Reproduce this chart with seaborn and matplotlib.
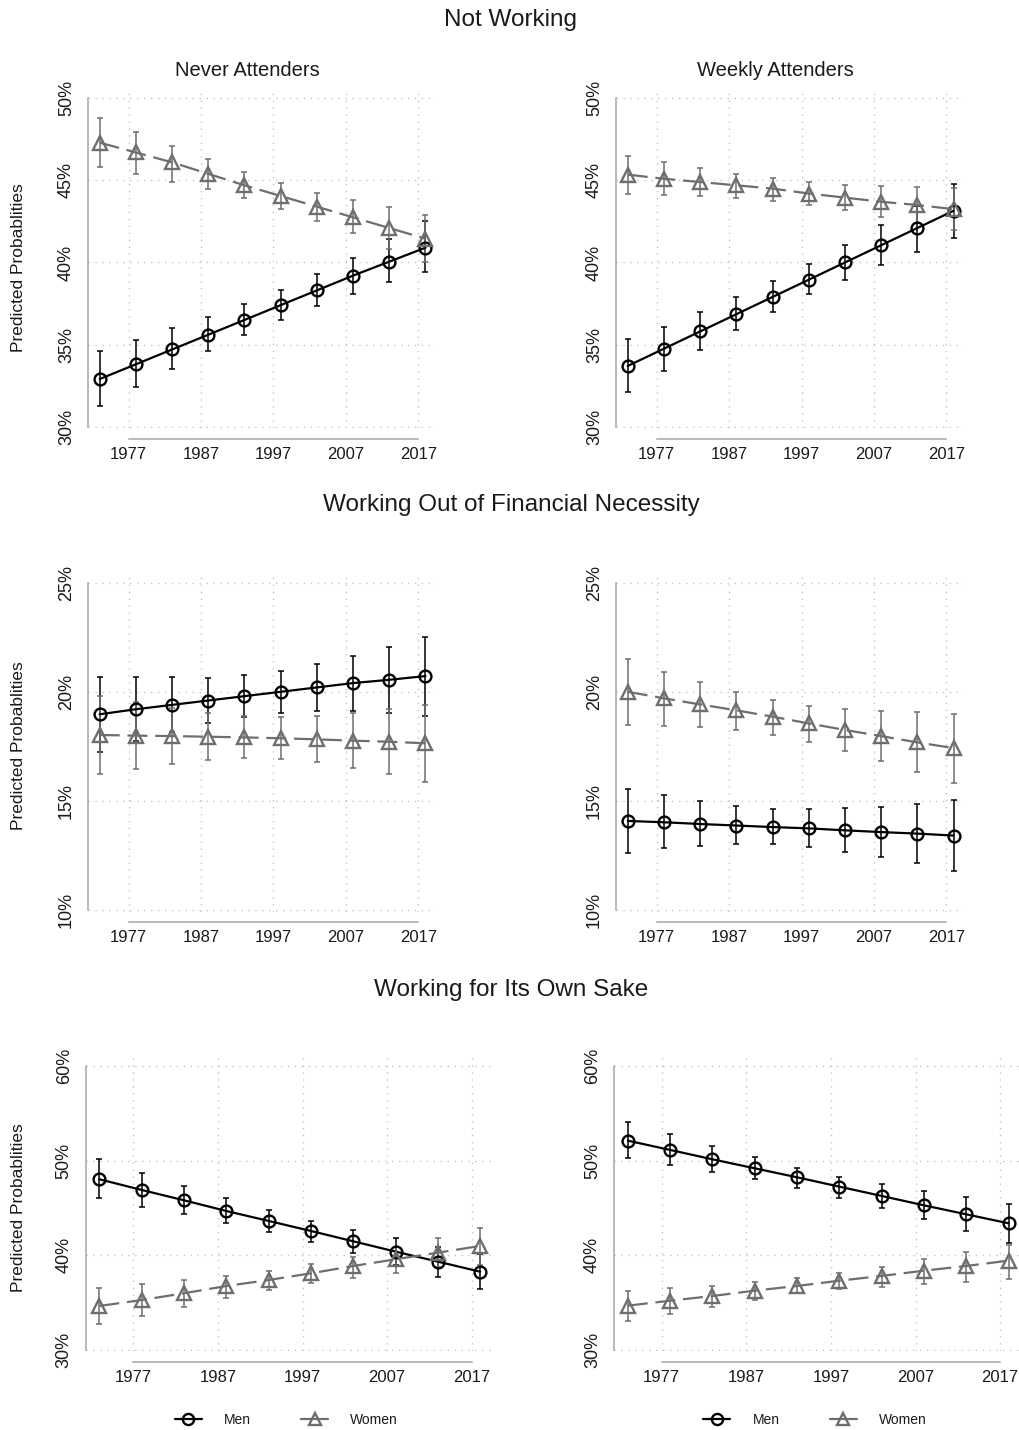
import matplotlib
matplotlib.use("Agg")
import matplotlib.pyplot as plt
import numpy as np
import pandas as pd
import seaborn as sns
from matplotlib.lines import Line2D

sns.set_theme(style="white")
plt.rcParams["font.family"] = ["Liberation Sans", "DejaVu Sans"]

# ---------------------------------------------------------------- data
years = [1973, 1978, 1983, 1988, 1993, 1998, 2003, 2008, 2013, 2018]
year_ticks = [1977, 1987, 1997, 2007, 2017]

row_titles = ["Not Working", "Working Out of Financial Necessity", "Working for Its Own Sake"]
col_titles = ["Never Attenders", "Weekly Attenders"]
sexes = ["Men", "Women"]
y_label = "Predicted Probablities"

# Not Working -- never attenders
nw_never_men = [32.9, 33.8, 34.7, 35.6, 36.5, 37.4, 38.3, 39.2, 40.05, 40.9]
nw_never_men_lo = [31.25, 32.4, 33.5, 34.6, 35.6, 36.5, 37.35, 38.1, 38.8, 39.4]
nw_never_men_hi = [34.6, 35.3, 36.0, 36.7, 37.45, 38.3, 39.3, 40.3, 41.4, 42.5]
nw_never_women = [47.3, 46.7, 46.1, 45.4, 44.7, 44.05, 43.4, 42.75, 42.1, 41.45]
nw_never_women_lo = [45.8, 45.4, 44.9, 44.5, 43.95, 43.25, 42.55, 41.8, 40.85, 40.0]
nw_never_women_hi = [48.8, 47.95, 47.1, 46.3, 45.5, 44.85, 44.25, 43.8, 43.35, 42.9]

# Not Working -- weekly attenders
nw_weekly_men = [33.7, 34.75, 35.8, 36.85, 37.9, 38.95, 40.0, 41.05, 42.1, 43.15]
nw_weekly_men_lo = [32.1, 33.4, 34.65, 35.9, 37.0, 38.05, 38.95, 39.85, 40.65, 41.5]
nw_weekly_men_hi = [35.35, 36.1, 37.0, 37.9, 38.9, 39.9, 41.05, 42.3, 43.45, 44.8]
nw_weekly_women = [45.35, 45.1, 44.9, 44.7, 44.5, 44.2, 43.95, 43.7, 43.5, 43.25]
nw_weekly_women_lo = [44.15, 44.1, 44.05, 43.95, 43.75, 43.5, 43.2, 42.8, 42.4, 41.95]
nw_weekly_women_hi = [46.5, 46.1, 45.75, 45.4, 45.15, 44.9, 44.75, 44.65, 44.6, 44.55]

# Working Out of Financial Necessity -- never attenders
fn_never_men = [18.97, 19.2, 19.4, 19.6, 19.8, 20.0, 20.2, 20.4, 20.55, 20.72]
fn_never_men_lo = [17.25, 17.74, 18.14, 18.55, 18.84, 19.04, 19.13, 19.14, 19.04, 18.91]
fn_never_men_hi = [20.69, 20.66, 20.66, 20.65, 20.76, 20.96, 21.27, 21.66, 22.06, 22.53]
fn_never_women = [18.02, 17.99, 17.97, 17.94, 17.91, 17.87, 17.82, 17.76, 17.71, 17.64]
fn_never_women_lo = [16.22, 16.44, 16.69, 16.86, 16.95, 16.9, 16.77, 16.49, 16.23, 15.88]
fn_never_women_hi = [19.82, 19.54, 19.25, 19.02, 18.87, 18.84, 18.87, 19.03, 19.19, 19.4]

# Working Out of Financial Necessity -- weekly attenders
fn_weekly_men = [14.08, 14.02, 13.94, 13.87, 13.8, 13.74, 13.65, 13.57, 13.5, 13.41]
fn_weekly_men_lo = [12.63, 12.83, 12.95, 13.03, 13.03, 12.9, 12.67, 12.44, 12.14, 11.8]
fn_weekly_men_hi = [15.55, 15.27, 15.01, 14.77, 14.65, 14.62, 14.66, 14.74, 14.86, 15.04]
fn_weekly_women = [20.0, 19.7, 19.42, 19.15, 18.86, 18.55, 18.25, 17.97, 17.68, 17.42]
fn_weekly_women_lo = [18.48, 18.45, 18.37, 18.25, 18.02, 17.71, 17.29, 16.83, 16.34, 15.84]
fn_weekly_women_hi = [21.49, 20.92, 20.43, 19.97, 19.62, 19.37, 19.23, 19.13, 19.07, 19.0]

# Working for Its Own Sake -- never attenders
os_never_men = [48.03, 46.9, 45.81, 44.68, 43.63, 42.57, 41.48, 40.39, 39.33, 38.27]
os_never_men_lo = [46.02, 45.14, 44.37, 43.45, 42.5, 41.41, 40.28, 38.98, 37.7, 36.4]
os_never_men_hi = [50.14, 48.66, 47.32, 46.02, 44.79, 43.66, 42.68, 41.8, 40.9, 40.1]
os_never_women = [34.65, 35.28, 35.99, 36.76, 37.39, 38.1, 38.87, 39.58, 40.28, 40.99]
os_never_women_lo = [32.75, 33.63, 34.58, 35.46, 36.34, 37.04, 37.64, 38.1, 38.76, 39.0]
os_never_women_hi = [36.51, 36.94, 37.39, 37.82, 38.38, 39.05, 39.86, 40.85, 41.8, 42.85]

# Working for Its Own Sake -- weekly attenders
os_weekly_men = [52.11, 51.13, 50.14, 49.19, 48.24, 47.25, 46.27, 45.28, 44.33, 43.38]
os_weekly_men_lo = [50.25, 49.54, 48.77, 48.03, 47.15, 46.09, 44.96, 43.8, 42.57, 41.34]
os_weekly_men_hi = [54.12, 52.78, 51.55, 50.35, 49.26, 48.31, 47.54, 46.8, 46.13, 45.42]
os_weekly_women = [34.68, 35.21, 35.7, 36.27, 36.76, 37.32, 37.82, 38.38, 38.87, 39.44]
os_weekly_women_lo = [33.06, 33.8, 34.58, 35.28, 35.99, 36.41, 36.69, 36.94, 37.22, 37.46]
os_weekly_women_hi = [36.27, 36.51, 36.8, 37.15, 37.57, 38.1, 38.8, 39.58, 40.32, 41.09]

yticks_nw = [30, 35, 40, 45, 50]
yticks_fn = [10, 15, 20, 25]
yticks_os = [30, 40, 50, 60]

# ---------------------------------------------------------------- styling
W, H = 1019, 1430
MEN_C = "#000000"
WOMEN_C = "#6e6e6e"
SPINE_C = "#a6a6a6"
GRID_C = "#c4c4c4"
TEXT_C = "#1a1a1a"

series_style = {
    "Men": dict(color=MEN_C, marker="o", ms=8.5, ls="-"),
    "Women": dict(color=WOMEN_C, marker="^", ms=9.5, ls=(0, (9, 3.5))),
}

fig = plt.figure(figsize=(W / 100, H / 100), dpi=100)


def px_axes(x0, y0, x1, y1):
    return fig.add_axes([x0 / W, 1 - y1 / H, (x1 - x0) / W, (y1 - y0) / H])


XLIM = (1971.4, 2019.5)


def draw_panel(box, ylim, yticks, men, men_lo, men_hi, women, women_lo, women_hi):
    ax = px_axes(*box)
    series = {"Men": (men, men_lo, men_hi), "Women": (women, women_lo, women_hi)}
    for sex in sexes:
        mean, lo, hi = (np.asarray(a, float) for a in series[sex])
        st = series_style[sex]
        ax.errorbar(years, mean, yerr=[mean - lo, hi - mean], fmt="none",
                    ecolor=st["color"], elinewidth=1.1, capsize=2.3,
                    capthick=1.1, zorder=2)
        df = pd.DataFrame({"year": years, "prob": mean})
        sns.lineplot(data=df, x="year", y="prob", ax=ax, color=st["color"],
                     marker=st["marker"], markersize=st["ms"],
                     markerfacecolor="none", markeredgecolor=st["color"],
                     markeredgewidth=1.7, linestyle=st["ls"], linewidth=1.6,
                     legend=False, zorder=3)
    ax.set_xlim(*XLIM)
    ax.set_ylim(*ylim)
    ax.set_xticks(year_ticks)
    ax.set_xticklabels([str(y) for y in year_ticks])
    ax.set_yticks(yticks)
    ax.set_yticklabels([f"{v}%" for v in yticks], rotation=90, va="center")
    ax.set_xlabel("")
    ax.set_ylabel("")
    ax.grid(True, color=GRID_C, linestyle=(0, (1, 4)), linewidth=1.0)
    for s in ("top", "right"):
        ax.spines[s].set_visible(False)
    for s in ("left", "bottom"):
        ax.spines[s].set_color(SPINE_C)
        ax.spines[s].set_linewidth(1.1)
    ax.spines["bottom"].set_position(("outward", 7.6))
    ax.spines["bottom"].set_bounds(year_ticks[0], year_ticks[-1])
    ax.spines["left"].set_bounds(yticks[0], yticks[-1])
    ax.tick_params(axis="y", direction="out", length=4.5, width=1.0,
                   color=SPINE_C, pad=5, labelsize=13, labelcolor=TEXT_C)
    ax.tick_params(axis="x", direction="in", length=2.6, width=1.0,
                   color=SPINE_C, pad=6, labelsize=12, labelcolor=TEXT_C)
    ax.set_facecolor("white")
    return ax


# column geometry (pixels): axes left edge and width
top_cols = [(88.1, 436.3), (616.2, 964.4)]
bot_cols = [(85.9, 492.9), (614.3, 1021.3)]

rows = [
    dict(y0=90.1, y1=428.3, ylim=(29.9, 50.5), yticks=yticks_nw, cols=top_cols,
         data=[(nw_never_men, nw_never_men_lo, nw_never_men_hi,
                nw_never_women, nw_never_women_lo, nw_never_women_hi),
               (nw_weekly_men, nw_weekly_men_lo, nw_weekly_men_hi,
                nw_weekly_women, nw_weekly_women_lo, nw_weekly_women_hi)]),
    dict(y0=573.1, y1=911.5, ylim=(9.93, 25.44), yticks=yticks_fn, cols=top_cols,
         data=[(fn_never_men, fn_never_men_lo, fn_never_men_hi,
                fn_never_women, fn_never_women_lo, fn_never_women_hi),
               (fn_weekly_men, fn_weekly_men_lo, fn_weekly_men_hi,
                fn_weekly_women, fn_weekly_women_lo, fn_weekly_women_hi)]),
    dict(y0=1056.5, y1=1351.4, ylim=(29.85, 61.0), yticks=yticks_os, cols=bot_cols,
         data=[(os_never_men, os_never_men_lo, os_never_men_hi,
                os_never_women, os_never_women_lo, os_never_women_hi),
               (os_weekly_men, os_weekly_men_lo, os_weekly_men_hi,
                os_weekly_women, os_weekly_women_lo, os_weekly_women_hi)]),
]

bottom_axes = []
for r, row in enumerate(rows):
    for c, (x0, x1) in enumerate(row["cols"]):
        ax = draw_panel((x0, row["y0"], x1, row["y1"]), row["ylim"], row["yticks"],
                        *row["data"][c])
        if r == 2:
            bottom_axes.append(ax)

# titles
title_y = [20, 505, 990]
for t, ty in zip(row_titles, title_y):
    fig.text(511 / W, 1 - ty / H, t, ha="center", va="center", fontsize=17.5, color=TEXT_C)
for t, tx in zip(col_titles, [247, 775]):
    fig.text(tx / W, 1 - 71 / H, t, ha="center", va="center", fontsize=14.5, color=TEXT_C)

# y-axis labels on the left column
for cy in [267.5, 746, 1208]:
    fig.text(18.5 / W, 1 - cy / H, y_label, rotation=90, ha="center", va="center",
             fontsize=12.5, color=TEXT_C)

# legends below the bottom row
handles = [
    Line2D([0], [0], color=series_style[s]["color"], marker=series_style[s]["marker"],
           markersize=series_style[s]["ms"] - 0.5, markerfacecolor="none",
           markeredgewidth=1.7, linewidth=1.6, linestyle="-")
    for s in sexes
]
for ax, cx in zip(bottom_axes, [286.5, 815]):
    ax.legend(handles, sexes, loc="center", ncol=2, frameon=False, fontsize=10,
              handlelength=1.95, handletextpad=1.6, columnspacing=3.6,
              bbox_to_anchor=(cx / W, 1 - 1420 / H), bbox_transform=fig.transFigure,
              labelcolor=TEXT_C)

fig.savefig("out.png", dpi=100, facecolor="white")
